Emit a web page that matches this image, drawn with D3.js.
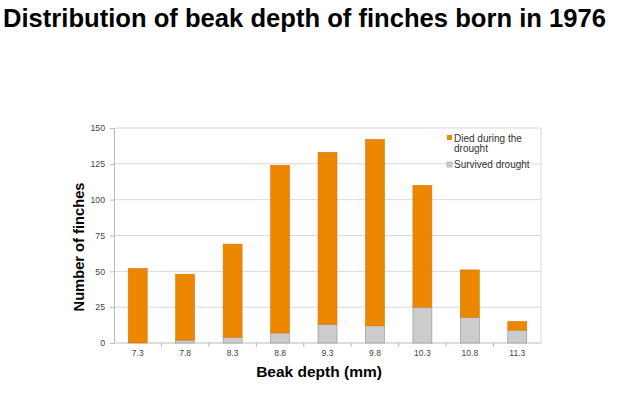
<!DOCTYPE html>
<html><head><meta charset="utf-8">
<script src="https://cdn.jsdelivr.net/npm/d3@7"></script>
<style>body{margin:0;background:#fff}text{font-family:"Liberation Sans",Arial,sans-serif}</style>
</head><body>
<svg id="c" width="617" height="412"></svg>
<script>
const categories = ["7.3","7.8","8.3","8.8","9.3","9.8","10.3","10.8","11.3"];
const survived = [0, 2, 4, 7, 13, 12, 25, 18, 9];
const died = [52, 46, 65, 117, 120, 130, 85, 33, 6];
const yTicks = [0, 25, 50, 75, 100, 125, 150];
const seriesNames = ["Died during the drought", "Survived drought"];

const svg = d3.select("#c");
const m = {left:114, right:541, top:128, bottom:343};
const x = d3.scaleBand().domain(categories).range([m.left, m.right]).paddingInner(0.6).paddingOuter(0.3);
const xb = d3.scaleBand().domain(categories).range([m.left, m.right]);
const y = d3.scaleLinear().domain([0,150]).range([m.bottom, m.top]);

// gridlines
svg.append("g").selectAll("line").data(yTicks.slice(1)).join("line")
  .attr("x1", m.left).attr("x2", m.right).attr("y1", d=>y(d)).attr("y2", d=>y(d))
  .attr("stroke", "#d9d9d9").attr("stroke-width", 1);
// right border
svg.append("line").attr("x1", m.right).attr("x2", m.right).attr("y1", m.top).attr("y2", m.bottom).attr("stroke","#d9d9d9");

// y axis
const ya = svg.append("g").attr("transform", `translate(${m.left},0)`)
  .call(d3.axisLeft(y).tickValues(yTicks).tickSize(4).tickPadding(5));
ya.select(".domain").attr("stroke","#bbb");
ya.selectAll(".tick line").attr("stroke","#bbb");
ya.selectAll("text").attr("fill","#444").style("font-size","8.7px");

// x axis
const xa = svg.append("g").attr("transform", `translate(0,${m.bottom})`)
  .call(d3.axisBottom(x).tickSize(0).tickPadding(7));
xa.select(".domain").attr("stroke","#bbb").attr("d", `M${m.left},0H${m.right}`);
xa.selectAll("text").attr("fill","#444").style("font-size","8.5px");
svg.append("g").selectAll("line").data(categories.slice(1)).join("line")
  .attr("x1", d=>xb(d)).attr("x2", d=>xb(d)).attr("y1", m.bottom).attr("y2", m.bottom+4)
  .attr("stroke","#bbb");

// bars
const rows = categories.map((c,i)=>({cat:c, survived:survived[i], died:died[i]}));
const stack = d3.stack().keys(["survived","died"])(rows);
const colors = {survived:"#cccccc", died:"#ee8700"};
const strokes = {survived:"#8f8f8f", died:"#d27a10"};
stack.forEach(s=>{
  svg.append("g").selectAll("rect").data(s).join("rect")
    .attr("x", d=>x(d.data.cat)).attr("width", x.bandwidth())
    .attr("y", d=>y(d[1])).attr("height", d=>Math.max(0, y(d[0])-y(d[1])))
    .attr("fill", colors[s.key]).attr("stroke", d=>d[1]-d[0]>0?strokes[s.key]:"none").attr("stroke-width",0.6);
});

// legend
const lg = svg.append("g");
lg.append("rect").attr("x",447).attr("y",135).attr("width",5).attr("height",5).attr("fill",colors.died);
lg.append("text").attr("x",454).attr("y",141.5).style("font-size","10px").attr("fill","#333").text("Died during the");
lg.append("text").attr("x",454).attr("y",152).style("font-size","10px").attr("fill","#333").text("drought");
lg.append("rect").attr("x",447).attr("y",162).attr("width",5).attr("height",5).attr("fill",colors.survived).attr("stroke","#999").attr("stroke-width",0.5);
lg.append("text").attr("x",454).attr("y",167.5).style("font-size","10px").attr("fill","#333").text("Survived drought");

// titles
svg.append("text").attr("x",3).attr("y",27).style("font-size","25.6px").style("font-weight","bold").attr("fill","#000")
  .text("Distribution of beak depth of finches born in 1976");
svg.append("text").attr("x",319).attr("y",377).attr("text-anchor","middle").style("font-size","15.5px").style("font-weight","bold").attr("fill","#000")
  .text("Beak depth (mm)");
svg.append("text").attr("transform","translate(84,247) rotate(-90)").attr("text-anchor","middle").style("font-size","14.7px").style("font-weight","bold").attr("fill","#000")
  .text("Number of finches");
</script>
</body></html>
